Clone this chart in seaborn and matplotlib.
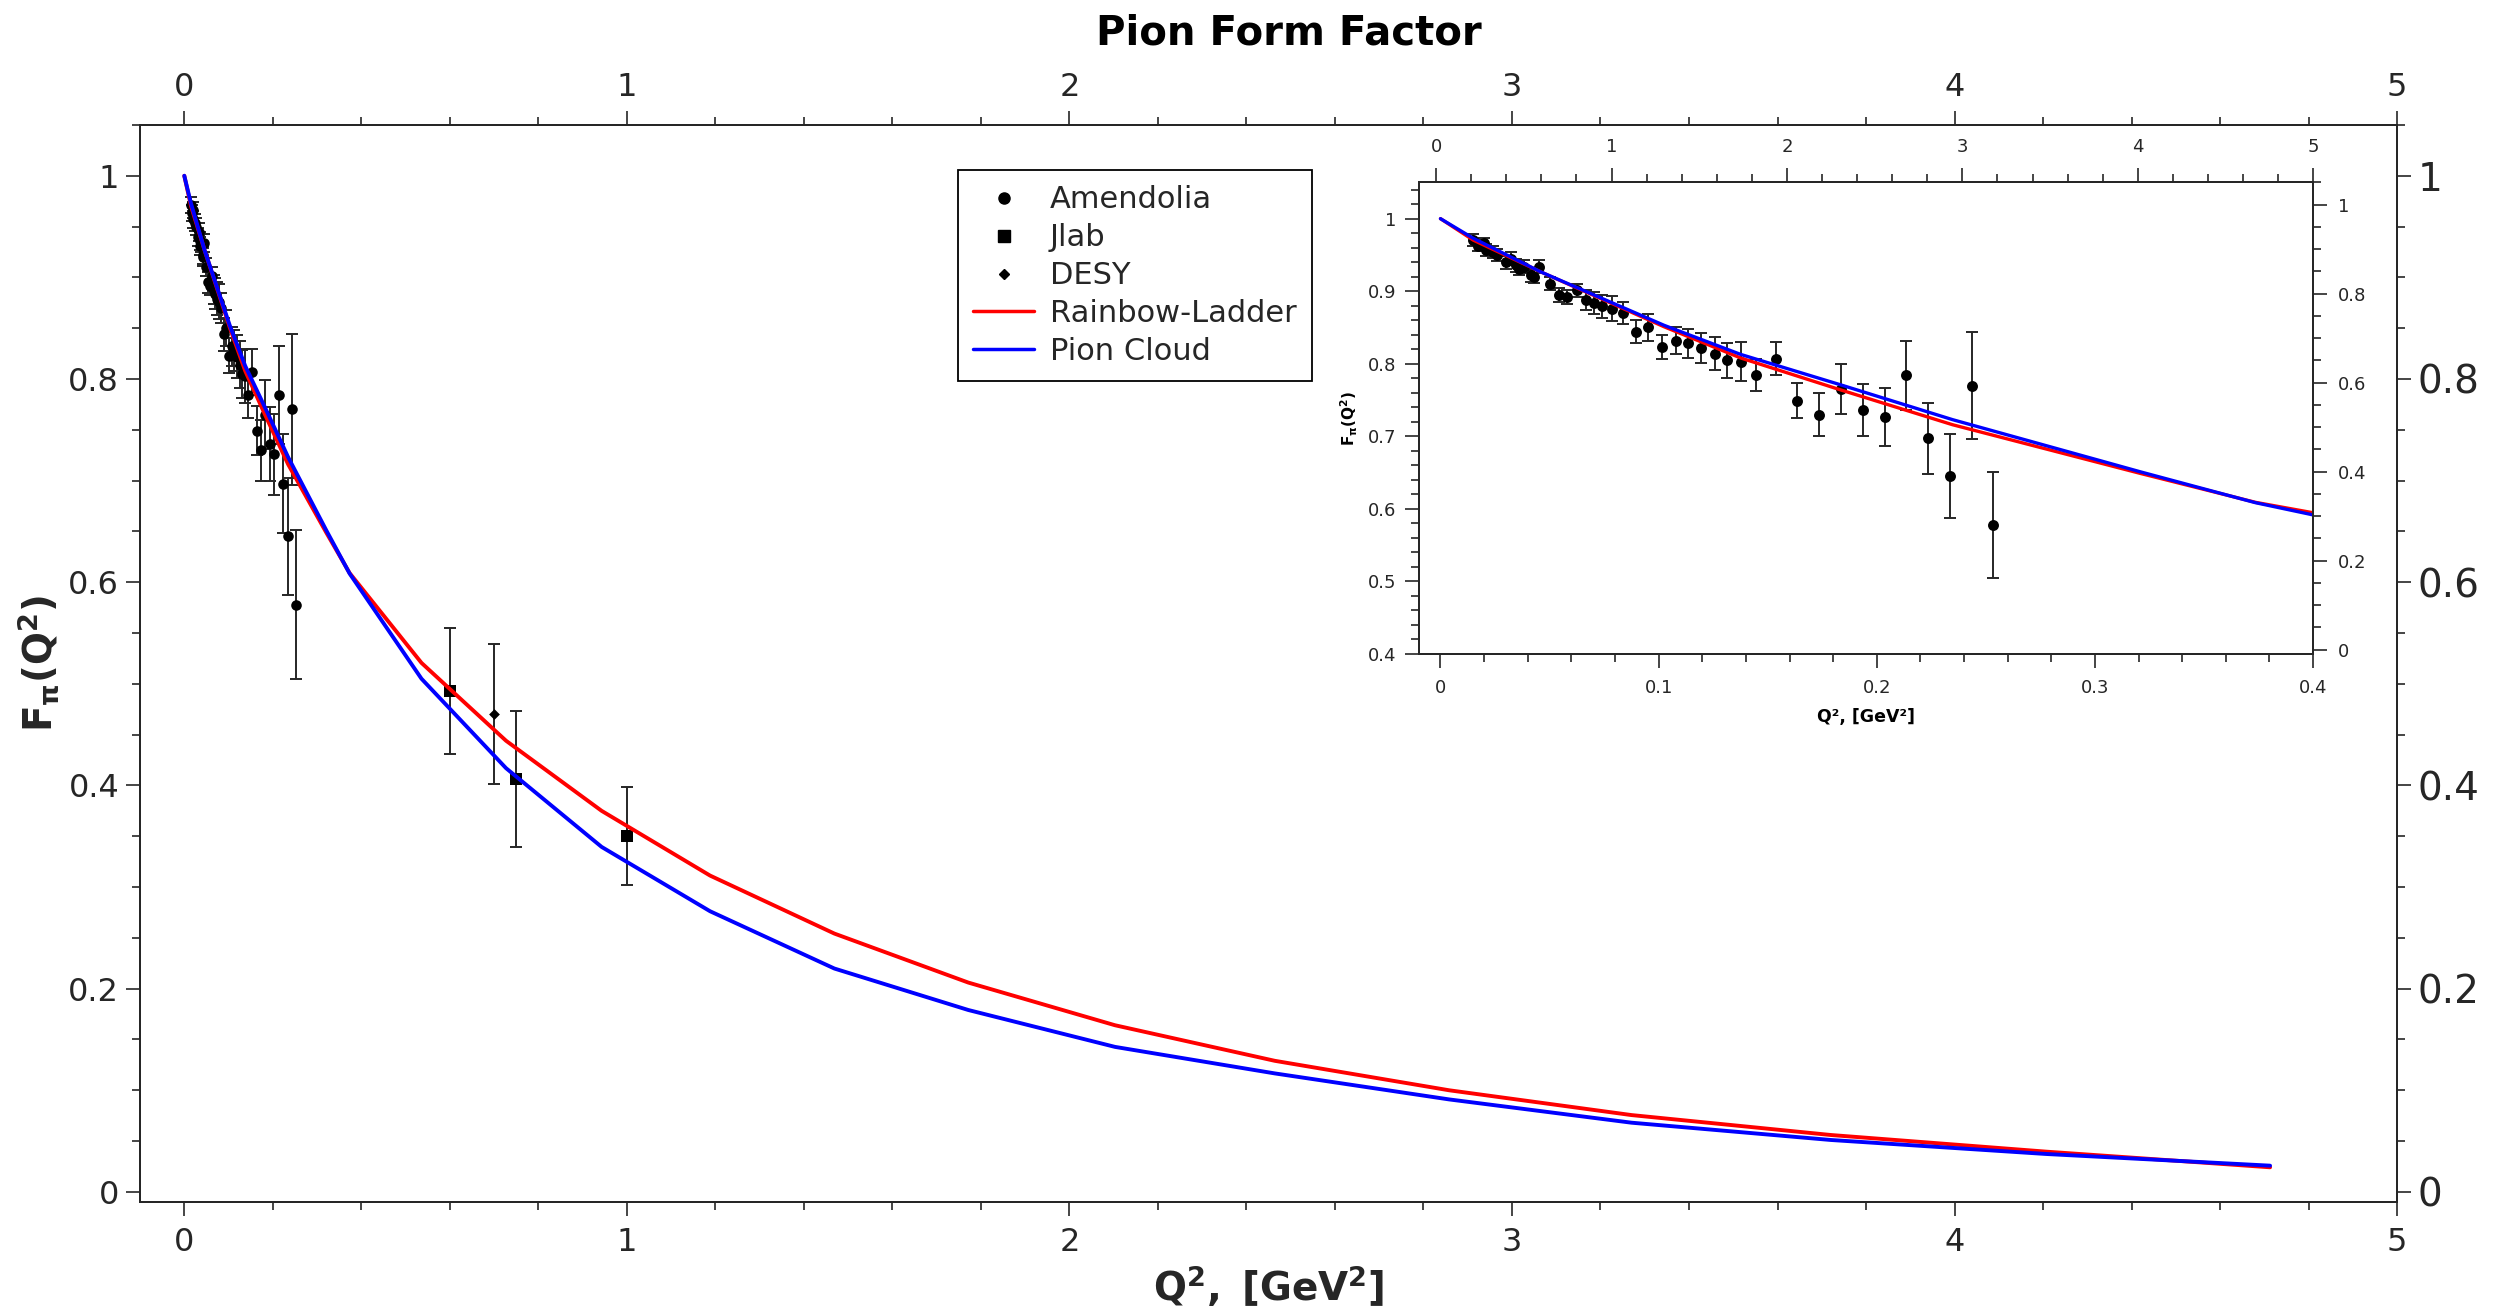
import matplotlib
matplotlib.use("Agg")
import matplotlib.pyplot as plt
import seaborn as sns
from matplotlib.ticker import MultipleLocator, FuncFormatter
from matplotlib.lines import Line2D

# ---- Amendolia (pi-e scattering) ----
amen_q2 = [0.0147, 0.0170, 0.0200, 0.0208, 0.0239, 0.0261, 0.0300, 0.0322, 0.0345, 0.0361,
           0.0384, 0.0414, 0.0429, 0.0452, 0.0501, 0.0544, 0.0582, 0.0625, 0.0666, 0.0704,
           0.0742, 0.0788, 0.0837, 0.0898, 0.0953, 0.1014, 0.1078, 0.1133, 0.1196, 0.1257,
           0.1313, 0.1376, 0.1445, 0.1536, 0.1633, 0.1735, 0.1834, 0.1937, 0.2036, 0.2132,
           0.2236, 0.2334, 0.2437, 0.2533]
amen_f = [0.971, 0.963, 0.966, 0.957, 0.954, 0.950, 0.940, 0.945, 0.936, 0.931,
          0.934, 0.922, 0.920, 0.934, 0.910, 0.895, 0.892, 0.901, 0.888, 0.884,
          0.879, 0.876, 0.870, 0.844, 0.850, 0.823, 0.832, 0.828, 0.822, 0.814,
          0.805, 0.803, 0.784, 0.807, 0.749, 0.730, 0.765, 0.736, 0.726, 0.784,
          0.697, 0.645, 0.770, 0.578]
amen_err = [0.008, 0.008, 0.008, 0.008, 0.008, 0.008, 0.009, 0.009, 0.009, 0.009,
            0.009, 0.009, 0.009, 0.009, 0.009, 0.010, 0.009, 0.009, 0.014, 0.015,
            0.016, 0.017, 0.015, 0.016, 0.018, 0.017, 0.019, 0.020, 0.021, 0.023,
            0.024, 0.027, 0.022, 0.023, 0.024, 0.030, 0.034, 0.036, 0.040, 0.048,
            0.049, 0.058, 0.074, 0.073]

# ---- JLab ----
jlab_q2 = [0.60, 0.75, 1.00]
jlab_f = [0.493, 0.406, 0.350]
jlab_err = [0.062, 0.067, 0.048]

# ---- DESY ----
desy_q2 = [0.70]
desy_f = [0.470]
desy_err = [0.069]

# ---- model curves ----
model_q2 = [0.0, 0.015, 0.046, 0.1025, 0.1376, 0.1834, 0.2347, 0.3209, 0.3736, 0.536,
            0.727, 0.943, 1.188, 1.469, 1.7715, 2.103, 2.464, 2.858, 3.270, 3.720,
            4.207, 4.713]
rainbow_ladder = [1.0, 0.9705, 0.9266, 0.851, 0.808, 0.764, 0.716, 0.6488, 0.609, 0.5206,
                  0.444, 0.375, 0.3113, 0.2542, 0.206, 0.164, 0.129, 0.100, 0.0756, 0.056,
                  0.0396, 0.0242]
pion_cloud = [1.0, 0.973, 0.9266, 0.853, 0.8129, 0.771, 0.723, 0.651, 0.6085, 0.505,
              0.417, 0.3395, 0.2762, 0.2198, 0.179, 0.1427, 0.1166, 0.091, 0.0681, 0.0511,
              0.0373, 0.0258]

sns.set_theme(style="ticks")
plt.rcParams["font.family"] = ["DejaVu Sans"]
plt.rcParams["mathtext.fontset"] = "dejavusans"

DARK = ".15"
fmt = FuncFormatter(lambda v, p: f"{v:g}")


def style_axis(a, which_axis, major, minor, labelsize, pad, length=10, mlength=6):
    axis = a.xaxis if which_axis == "x" else a.yaxis
    axis.set_major_locator(MultipleLocator(major))
    axis.set_minor_locator(MultipleLocator(minor))
    axis.set_major_formatter(fmt)
    a.tick_params(axis=which_axis, which="major", direction="out", length=length,
                  width=1.2, labelsize=labelsize, pad=pad, colors=DARK)
    a.tick_params(axis=which_axis, which="minor", direction="out", length=mlength,
                  width=1.2)


def draw_data(a, ms_circle, lw_line):
    for xs, ys, es in ((amen_q2, amen_f, amen_err), (jlab_q2, jlab_f, jlab_err),
                       (desy_q2, desy_f, desy_err)):
        a.errorbar(xs, ys, yerr=es, fmt="none", ecolor=DARK,
                   elinewidth=1.4, capsize=4.5, capthick=1.4, zorder=2)
    sns.scatterplot(x=amen_q2, y=amen_f, ax=a, marker="o", s=ms_circle, color="black",
                    linewidth=0, zorder=2.5, legend=False)
    sns.scatterplot(x=jlab_q2, y=jlab_f, ax=a, marker="s", s=75, color="black",
                    linewidth=0, zorder=2.5, legend=False)
    sns.scatterplot(x=desy_q2, y=desy_f, ax=a, marker="D", s=30, color="black",
                    linewidth=0, zorder=2.5, legend=False)
    sns.lineplot(x=model_q2, y=rainbow_ladder, ax=a, color="#ff0000", lw=lw_line,
                 sort=False, estimator=None, zorder=3, legend=False)
    sns.lineplot(x=model_q2, y=pion_cloud, ax=a, color="#0000ff", lw=lw_line,
                 sort=False, estimator=None, zorder=3, legend=False)


fig = plt.figure(figsize=(25.14, 13.14), dpi=100)

# ---------------- main panel ----------------
ax = fig.add_axes([0.0557, 0.0852, 0.8978, 0.8197])
draw_data(ax, 58, 2.8)
ax.set_xlim(-0.1, 5.0)
ax.set_ylim(-0.01, 1.05)
style_axis(ax, "x", 1, 0.2, 23, 8)
style_axis(ax, "y", 0.2, 0.05, 23, 5)
ax.set_xlabel(r"$\mathbf{Q^2,\ [GeV^2]}$", fontsize=28, labelpad=4, color=DARK)
ax.set_ylabel(r"$\mathbf{F_{\pi}(Q^2)}$", fontsize=28, labelpad=5, color=DARK)
for s in ax.spines.values():
    s.set_linewidth(1.4)
    s.set_color(DARK)

axt = ax.twiny()
axt.set_xlim(-0.1, 5.0)
style_axis(axt, "x", 1, 0.2, 23, 6)

axr = ax.twinx()
axr.set_ylim(-0.01, 1.05)
style_axis(axr, "y", 0.2, 0.05, 28, 5)
for a in (axt, axr):
    for s in a.spines.values():
        s.set_linewidth(1.4)
        s.set_color(DARK)

fig.text(0.5127, 0.9745, "Pion Form Factor", fontsize=29, fontweight="bold",
         ha="center", va="center", color="black")

handles = [
    Line2D([], [], ls="none", marker="o", ms=8, color="black"),
    Line2D([], [], ls="none", marker="s", ms=8, color="black"),
    Line2D([], [], ls="none", marker="D", ms=5.5, color="black"),
    Line2D([], [], color="#ff0000", lw=2.5),
    Line2D([], [], color="#0000ff", lw=2.5),
]
labels = ["Amendolia", "Jlab", "DESY", "Rainbow-Ladder", "Pion Cloud"]
leg = axr.legend(handles, labels, loc="upper left", bbox_to_anchor=(0.3624, 0.958),
                 borderaxespad=0, fontsize=22, frameon=True, fancybox=False,
                 edgecolor="black", framealpha=1, handlelength=2.0, handletextpad=0.5,
                 labelspacing=0.29, borderpad=0.5)
leg.get_frame().set_linewidth(1.3)

# ---------------- inset (low Q^2 region) ----------------
axi = fig.add_axes([0.5643, 0.5023, 0.3558, 0.3589])
axi.set_facecolor("white")
draw_data(axi, 62, 2.4)
axi.set_xlim(-0.01, 0.4)
axi.set_ylim(0.4, 1.05)
style_axis(axi, "x", 0.1, 0.02, 13, 8)
style_axis(axi, "y", 0.1, 0.02, 13, 6)
axi.set_xlabel("Q², [GeV²]", fontsize=12.5, fontweight="bold", labelpad=8, color="black")
axi.set_ylabel(r"$\mathbf{F_{\pi}(Q^2)}$", fontsize=11, labelpad=6, color="black")

axit = axi.twiny()
axit.set_xlim(-0.1, 5.0)
style_axis(axit, "x", 1, 0.2, 13, 9)
axir = axi.twinx()
axir.set_ylim(-0.01, 1.05)
style_axis(axir, "y", 0.2, 0.05, 13, 8)
for a in (axi, axit, axir):
    for s in a.spines.values():
        s.set_linewidth(1.4)
        s.set_color(DARK)

fig.savefig("out.png", dpi=100)
